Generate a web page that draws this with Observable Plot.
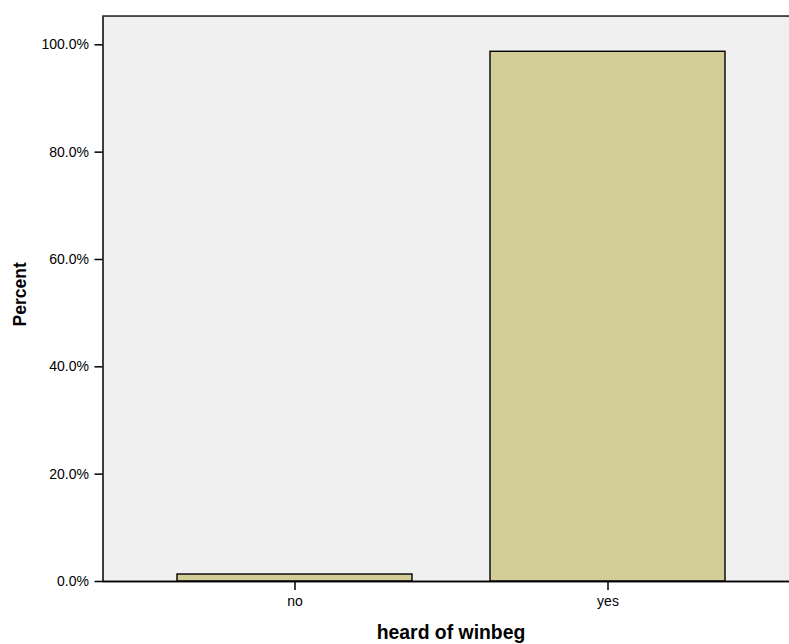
<!DOCTYPE html>
<html>
<head>
<meta charset="utf-8">
<script src="https://cdn.jsdelivr.net/npm/d3@7"></script>
<script src="https://cdn.jsdelivr.net/npm/@observablehq/plot@0.6"></script>
<style>
  html, body { margin: 0; padding: 0; background: #fff; }
  svg { display: block; }
</style>
</head>
<body>
<div id="chart"></div>
<script>
const categories = ["no", "yes"];
const percents = [1.3, 98.7];
const yTicks = [0, 20, 40, 60, 80, 100];
const yMax = 105.33;

const data = categories.map((c, i) => ({category: c, percent: percents[i]}));

const chart = Plot.plot({
  width: 789,
  height: 644,
  marginLeft: 102.5,
  marginRight: -3,
  marginTop: 15.7,
  marginBottom: 63,
  style: {fontFamily: "'Liberation Sans', Arial, sans-serif", fontSize: "14px", color: "#000", background: "#fff", overflow: "hidden"},
  x: {domain: categories, paddingInner: 0.25, paddingOuter: 0.2236, align: 0.5287},
  y: {domain: [0, yMax]},
  marks: [
    Plot.frame({fill: "#f0f0f0", stroke: "#000", strokeWidth: 1.5}),
    Plot.barY(data, {x: "category", y: "percent", fill: "#d3ce97", stroke: "#000", strokeWidth: 1.4}),
    Plot.ruleY([yMax], {stroke: "#444", strokeWidth: 1.5}),
    Plot.ruleY([0], {stroke: "#000", strokeWidth: 1.5}),
    Plot.axisY({ticks: yTicks, tickFormat: d => d.toFixed(1) + "%", tickSize: 8, tickPadding: 6,
      label: null, strokeWidth: 1.5}),
    Plot.axisX({tickSize: 9, tickPadding: 6, label: null, strokeWidth: 1.5}),
    Plot.text(["Percent"], {frameAnchor: "left", textAnchor: "middle", dx: -83, dy: -4.5, rotate: -90,
      fontWeight: "bold", fontSize: 17.5, text: d => d}),
    Plot.text(["heard of winbeg"], {frameAnchor: "bottom", dx: 3.25, dy: 57, fontWeight: "bold", fontSize: 19.4, text: d => d})
  ]
});

document.getElementById("chart").appendChild(chart);
</script>
</body>
</html>
